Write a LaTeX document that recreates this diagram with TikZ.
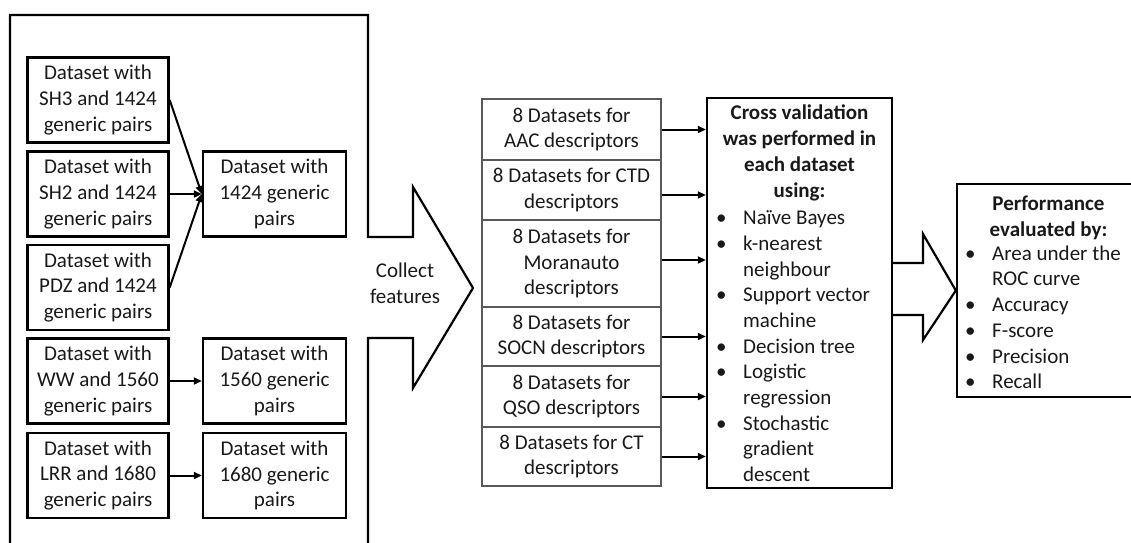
\documentclass[tikz,border=0pt]{standalone}
\usepackage{fontspec}
\setmainfont{Carlito}
\usetikzlibrary{arrows.meta,calc}
\begin{document}
\begin{tikzpicture}[x=1pt,y=-1pt,
  every node/.style={font=\fontsize{21}{25.7}\selectfont, text=black!90},
  dbox/.style={draw, line width=2.4pt, minimum width=141pt, minimum height=85pt, inner sep=0pt, align=center},
  rowbox/.style={draw=black!65, line width=1.1pt, minimum width=179pt, inner sep=0pt, align=center},
  bigbox/.style={draw, line width=2.4pt, inner sep=0pt},
  link/.style={line width=2pt, -{Triangle[length=8pt,width=7pt]}},
  outline/.style={draw, line width=2.2pt, line join=miter},
  head/.style={font=\bfseries\fontsize{21}{25.7}\selectfont, align=center, inner sep=0pt, anchor=north},
  items/.style={align=left, inner sep=0pt, anchor=north west},
]
\useasboundingbox (0,0) rectangle (1131,542);
\clip (0,0) rectangle (1131,542);
\newcommand{\itm}{\makebox[27pt][l]{\textbullet}}
\newcommand{\cont}{\hspace*{27pt}}

% frame around the source datasets, merged with the "collect features" arrow
\draw[outline] (10,560) -- (10,15) -- (368,15) -- (368,237) -- (413,237) -- (413,187)
  -- (473,288) -- (413,388) -- (413,338) -- (368,338) -- (368,560);
\node[align=center, inner sep=0pt] (collect) at (405,283) {Collect\\features};

% source datasets
\node[dbox] (sh3) at (98,100)   {Dataset with\\SH3 and 1424\\generic pairs};
\node[dbox] (sh2) at (98,194)   {Dataset with\\SH2 and 1424\\generic pairs};
\node[dbox] (pdz) at (98,287.5) {Dataset with\\PDZ and 1424\\generic pairs};
\node[dbox] (ww)  at (98,381)   {Dataset with\\WW and 1560\\generic pairs};
\node[dbox] (lrr) at (98,475.5) {Dataset with\\LRR and 1680\\generic pairs};

% merged datasets
\node[dbox, minimum width=143pt] (g1424) at (274.5,194)   {Dataset with\\1424 generic\\pairs};
\node[dbox, minimum width=143pt] (g1560) at (274.5,381)   {Dataset with\\1560 generic\\pairs};
\node[dbox, minimum width=143pt] (g1680) at (274.5,475.5) {Dataset with\\1680 generic\\pairs};

\draw[link] (sh3.east) -- (g1424.west);
\draw[link] (sh2.east) -- (g1424.west);
\draw[link] (pdz.east) -- (g1424.west);
\draw[link] (ww.east)  -- (g1560.west);
\draw[link] (lrr.east) -- (g1680.west);

% descriptor datasets
\node[rowbox, minimum height=61pt] (aac)  at (571.5,129.5) {8 Datasets for\\AAC descriptors};
\node[rowbox, minimum height=60pt] (ctd)  at (571.5,190)   {8 Datasets for CTD\\descriptors};
\node[rowbox, minimum height=87pt] (mor)  at (571.5,263.5) {8 Datasets for\\Moranauto\\descriptors};
\node[rowbox, minimum height=59pt] (socn) at (571.5,336.5) {8 Datasets for\\SOCN descriptors};
\node[rowbox, minimum height=61pt] (qso)  at (571.5,396.5) {8 Datasets for\\QSO descriptors};
\node[rowbox, minimum height=59pt] (ct)   at (571.5,456.5) {8 Datasets for CT\\descriptors};

% cross validation box
\node[bigbox, minimum width=185pt, minimum height=390pt] (cv) at (799.5,293) {};
\node[head] (cvhead) at (799.5,105) {Cross validation\\was performed in\\each dataset\\using:};
\node[items] (cvlist) at (716,210.5) {\itm Naïve Bayes\\\itm k-nearest\\\cont neighbour\\\itm Support vector\\\cont machine\\\itm Decision tree\\\itm Logistic\\\cont regression\\\itm Stochastic\\\cont gradient\\\cont descent};

\draw[link] (aac.east) -- (aac.east -| cv.west);
\draw[link] ([yshift=-5pt]ctd.east) -- ([yshift=-5pt]ctd.east -| cv.west);
\draw[link] ([yshift=3.5pt]mor.east) -- ([yshift=3.5pt]mor.east -| cv.west);
\draw[link] (socn.east) -- (socn.east -| cv.west);
\draw[link] (qso.east) -- (qso.east -| cv.west);
\draw[link] (ct.east) -- (ct.east -| cv.west);

% performance box
\node[bigbox, minimum width=183pt, minimum height=213pt] (perf) at (1048.5,290.5) {};
\node[head] (perfhead) at (1048.5,195.5) {Performance\\evaluated by:};
\node[items] (perflist) at (965,245.5) {\itm Area under the\\\cont ROC curve\\\itm Accuracy\\\itm F-score\\\itm Precision\\\itm Recall};

% block arrow from cross validation to performance
\draw[outline] (cv.east |- 0,263) -- (923,263) -- (923,234) -- (perf.west) -- (923,340) -- (923,315) -- (cv.east |- 0,315);
\end{tikzpicture}
\end{document}
